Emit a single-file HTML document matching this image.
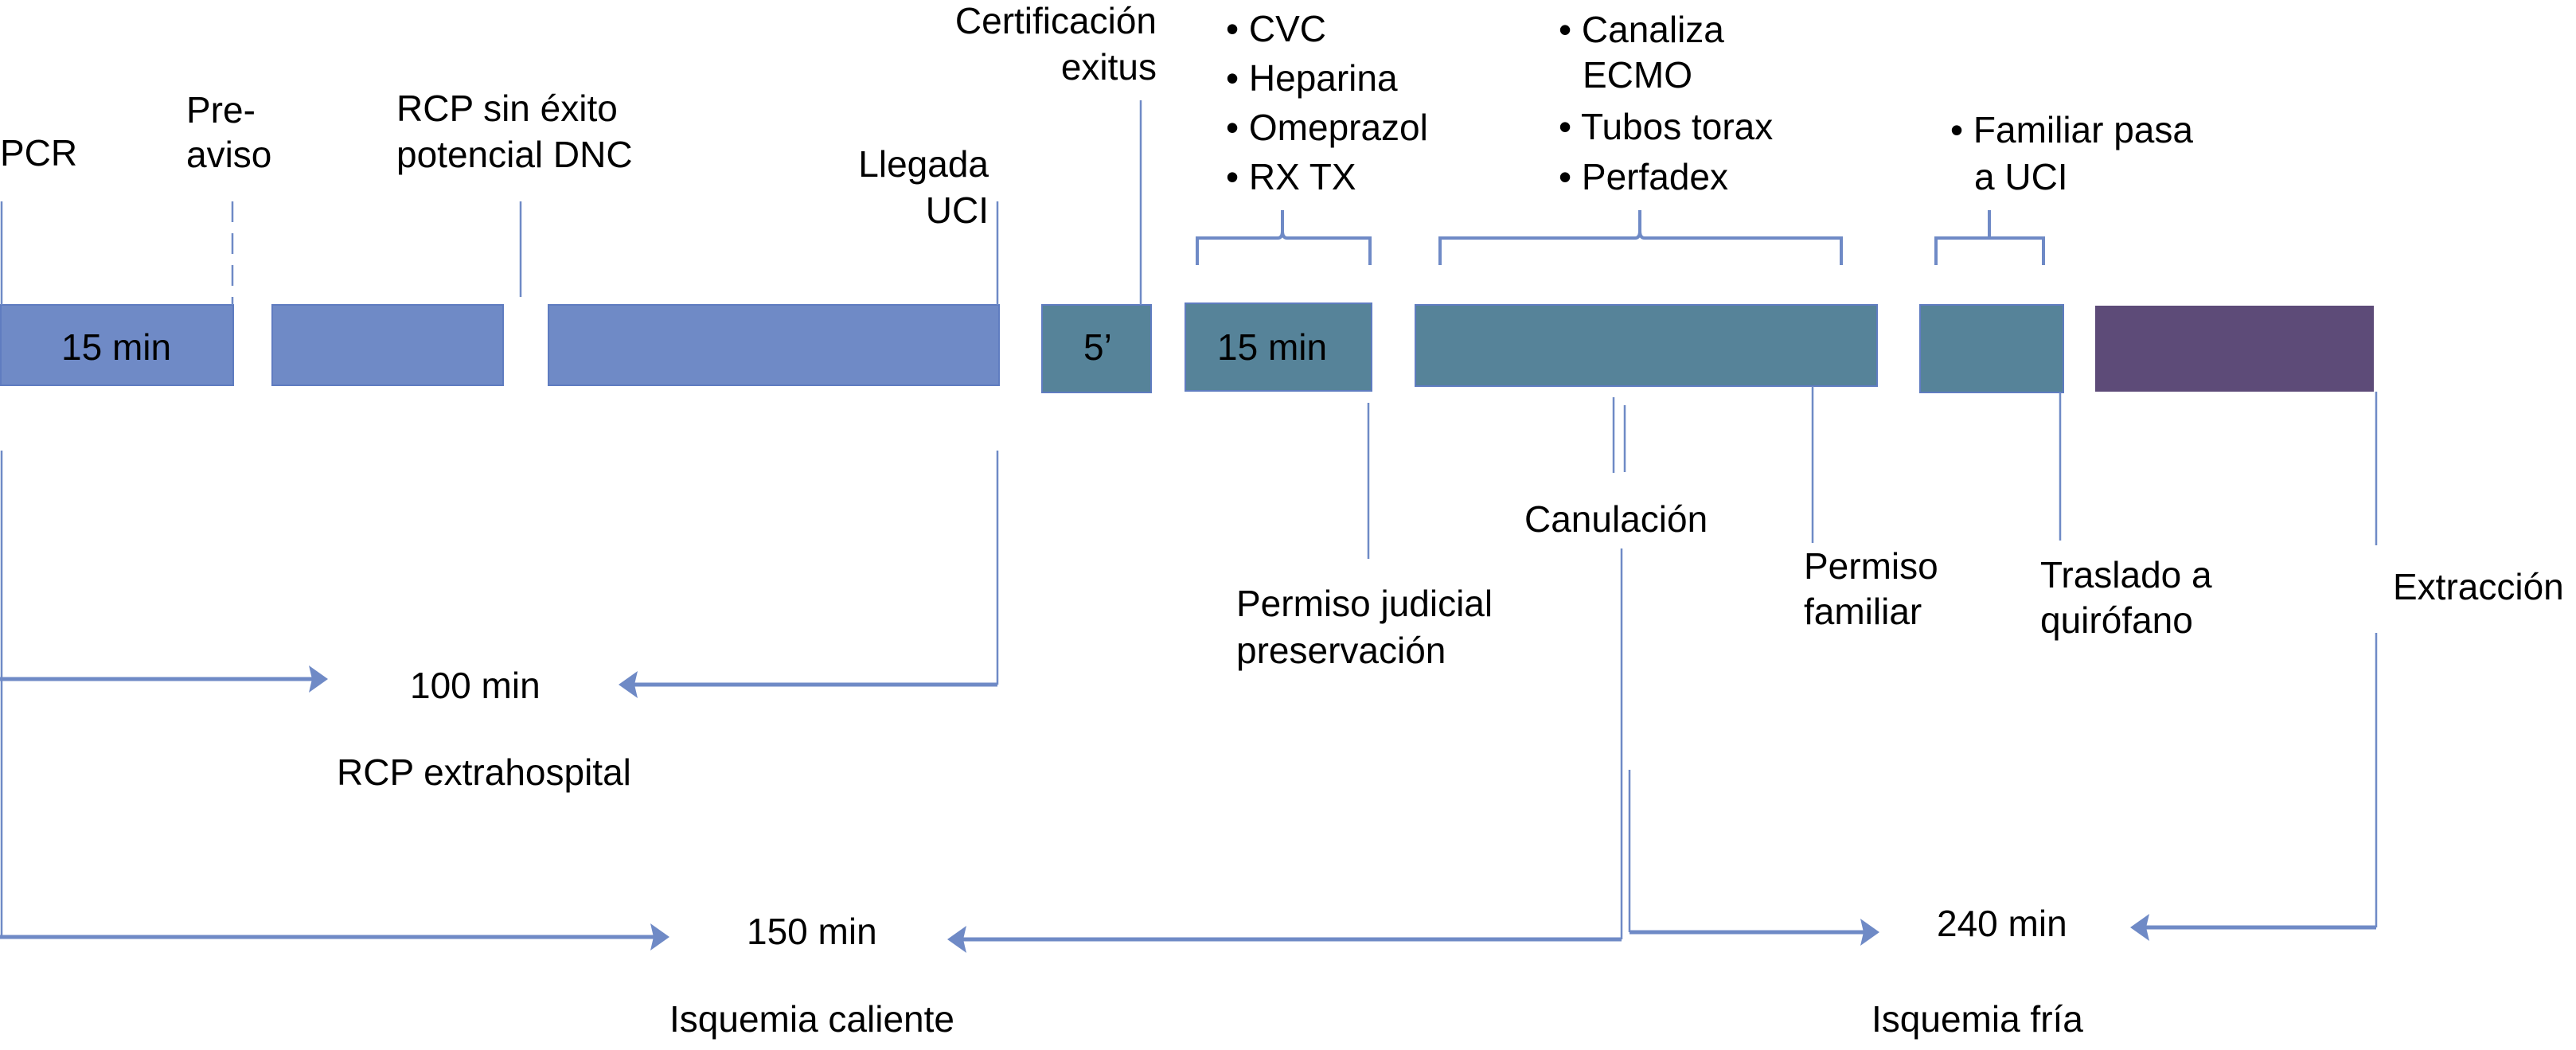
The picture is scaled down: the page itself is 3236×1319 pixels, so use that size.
<!DOCTYPE html>
<html><head><meta charset="utf-8"><style>
html,body{margin:0;padding:0;background:#fff;}
svg{display:block;}
text{font-family:"Liberation Sans",Arial,sans-serif;font-size:46px;fill:#000;}
</style></head><body>
<svg width="3236" height="1319" viewBox="0 0 3236 1319" xmlns="http://www.w3.org/2000/svg">
<defs>
<marker id="ah" markerWidth="10" markerHeight="10" refX="9" refY="5" orient="auto" markerUnits="userSpaceOnUse" viewBox="0 0 10 10">
</marker>
</defs>
<!-- bars -->
<g stroke="#5f7cc0" stroke-width="2">
<rect x="1" y="383" width="292" height="101" fill="#6f8ac6"/>
<rect x="342" y="383" width="290" height="101" fill="#6f8ac6"/>
<rect x="689" y="383" width="566" height="101" fill="#6f8ac6"/>
<rect x="1309" y="383" width="137" height="110" fill="#568399"/>
<rect x="1489" y="381" width="234" height="110" fill="#568399"/>
<rect x="1778" y="383" width="580" height="102" fill="#568399"/>
<rect x="2412" y="383" width="180" height="110" fill="#568399"/>
</g>
<rect x="2632" y="384" width="350" height="108" fill="#5d4b78"/>
<g fill="#000">
<text x="77" y="452">15 min</text>
<text x="1361" y="452">5’</text>
<text x="1529" y="452">15 min</text>
</g>
<!-- thin lines -->
<g stroke="#6f8ac6" stroke-width="2.5" fill="none">
<line x1="2" y1="253" x2="2" y2="383"/>
<line x1="292" y1="253" x2="292" y2="383" stroke-dasharray="26,14"/>
<line x1="654" y1="253" x2="654" y2="373"/>
<line x1="1253" y1="253" x2="1253" y2="383"/>
<line x1="1433" y1="126" x2="1433" y2="383"/>
<!-- braces -->
<path d="M1504 333 V299 H1605 Q1611 299 1611 290 V264 M1611 290 Q1611 299 1617 299 H1721 V333" stroke-width="4"/>
<path d="M1809 333 V299 H2054 Q2060 299 2060 290 V264 M2060 290 Q2060 299 2066 299 H2313 V333" stroke-width="4"/>
<path d="M2432 333 V299 H2499 V264 M2499 299 H2567 V333" stroke-width="4"/>
<!-- below -->
<line x1="1719" y1="506" x2="1719" y2="702"/>
<line x1="2027" y1="499" x2="2027" y2="594"/>
<line x1="2041" y1="509" x2="2041" y2="593"/>
<line x1="2277" y1="485" x2="2277" y2="682"/>
<line x1="2588" y1="493" x2="2588" y2="679"/>
<line x1="2985" y1="492" x2="2985" y2="685"/>
<line x1="2" y1="566" x2="2" y2="1178"/>
<line x1="1253" y1="566" x2="1253" y2="860"/>
<line x1="2037" y1="689" x2="2037" y2="1180"/>
<line x1="2047" y1="967" x2="2047" y2="1171"/>
<line x1="2985" y1="795" x2="2985" y2="1165"/>
</g>
<!-- arrows -->
<g stroke="#6f8ac6" stroke-width="5" fill="none">
<line x1="0" y1="853" x2="395" y2="853"/>
<line x1="1253" y1="860" x2="795" y2="860"/>
<line x1="0" y1="1177" x2="825" y2="1177"/>
<line x1="2037" y1="1180" x2="1207" y2="1180"/>
<line x1="2047" y1="1171" x2="2345" y2="1171"/>
<line x1="2985" y1="1165" x2="2693" y2="1165"/>
</g>
<g fill="#6f8ac6">
<polygon points="412,853 388,836 392,853 388,870"/>
<polygon points="777,860 801,843 797,860 801,877"/>
<polygon points="841,1177 817,1160 821,1177 817,1194"/>
<polygon points="1190,1180 1214,1163 1210,1180 1214,1197"/>
<polygon points="2361,1171 2337,1154 2341,1171 2337,1188"/>
<polygon points="2676,1165 2700,1148 2696,1165 2700,1182"/>
</g>
<!-- labels -->
<text x="0" y="208">PCR</text>
<text x="234" y="154">Pre-</text>
<text x="234" y="210">aviso</text>
<text x="498" y="152">RCP sin éxito</text>
<text x="498" y="210">potencial DNC</text>
<text x="1242" y="222" text-anchor="end">Llegada</text>
<text x="1242" y="280" text-anchor="end">UCI</text>
<text x="1453" y="42" text-anchor="end">Certificación</text>
<text x="1453" y="100" text-anchor="end">exitus</text>
<text x="1540" y="52">• CVC</text>
<text x="1540" y="114">• Heparina</text>
<text x="1540" y="176">• Omeprazol</text>
<text x="1540" y="238">• RX TX</text>
<text x="1958" y="53">• Canaliza</text>
<text x="1988" y="110">ECMO</text>
<text x="1958" y="175">• Tubos torax</text>
<text x="1958" y="238">• Perfadex</text>
<text x="2450" y="179">• Familiar pasa</text>
<text x="2480" y="238">a UCI</text>
<text x="1915" y="668">Canulación</text>
<text x="1553" y="774">Permiso judicial</text>
<text x="1553" y="833">preservación</text>
<text x="2266" y="727">Permiso</text>
<text x="2266" y="784">familiar</text>
<text x="2563" y="738">Traslado a</text>
<text x="2563" y="795">quirófano</text>
<text x="3006" y="753">Extracción</text>
<text x="515" y="877">100 min</text>
<text x="423" y="986">RCP extrahospital</text>
<text x="938" y="1186">150 min</text>
<text x="2433" y="1176">240 min</text>
<text x="841" y="1296">Isquemia caliente</text>
<text x="2351" y="1296">Isquemia fría</text>
</svg>
</body></html>
